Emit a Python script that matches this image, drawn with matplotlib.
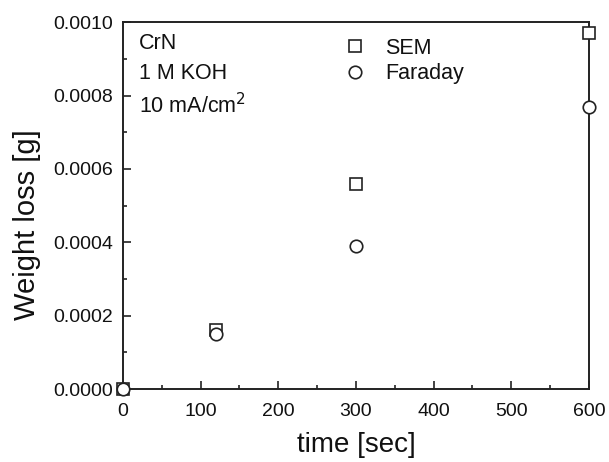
import matplotlib
matplotlib.use("Agg")
import matplotlib.pyplot as plt
from matplotlib.ticker import MultipleLocator, FormatStrFormatter

plt.rcParams['font.family'] = ['Liberation Sans', 'DejaVu Sans']

# data
time_sec = [0, 120, 300, 600]
sem = [0.0, 0.000162, 0.00056, 0.00097]
faraday = [0.0, 0.00015, 0.00039, 0.00077]

col = '#222222'
tcol = '#111111'

fig = plt.figure(figsize=(6.09, 4.62), dpi=100)
ax = fig.add_axes([0.202, 0.158, 0.765, 0.794])

ax.plot(time_sec, sem, ls='none', marker='s', ms=8, mfc='white', mec=col, mew=1.2,
        clip_on=False, zorder=5, label='SEM')
ax.plot(time_sec, faraday, ls='none', marker='o', ms=9, mfc='white', mec=col, mew=1.2,
        clip_on=False, zorder=6, label='Faraday')

ax.set_xlim(0, 600)
ax.set_ylim(0, 0.0010)
ax.xaxis.set_major_locator(MultipleLocator(100))
ax.xaxis.set_minor_locator(MultipleLocator(50))
ax.yaxis.set_major_locator(MultipleLocator(0.0002))
ax.yaxis.set_minor_locator(MultipleLocator(0.0001))
ax.yaxis.set_major_formatter(FormatStrFormatter('%.4f'))

ax.tick_params(which='both', direction='in', colors=col, labelcolor=tcol,
               labelsize=14, width=1.2)
ax.tick_params(which='major', length=6)
ax.tick_params(which='minor', length=3)
ax.tick_params(axis='x', which='major', pad=10)
ax.tick_params(axis='y', which='major', pad=7)
for s in ax.spines.values():
    s.set_color(col)
    s.set_linewidth(1.4)

ax.set_xlabel('time [sec]', fontsize=20, color=tcol)
ax.xaxis.set_label_coords(0.5, -0.118)
ax.set_ylabel('Weight loss [g]', fontsize=21, color=tcol)
ax.yaxis.set_label_coords(-0.175, 0.447)

ax.text(0.035, 0.97, 'CrN', transform=ax.transAxes, fontsize=15.5, va='top', color=tcol)
ax.text(0.035, 0.888, '1 M KOH', transform=ax.transAxes, fontsize=15.5, va='top', color=tcol)
ax.text(0.035, 0.806, '10 mA/cm$^2$', transform=ax.transAxes, fontsize=15.5, va='top', color=tcol)

ax.legend(loc='upper left', bbox_to_anchor=(0.434, 1.01), frameon=False, fontsize=15.5,
          handletextpad=0.9, labelspacing=0.2, handlelength=1.0, labelcolor=tcol)

fig.savefig('out.png', dpi=100)
